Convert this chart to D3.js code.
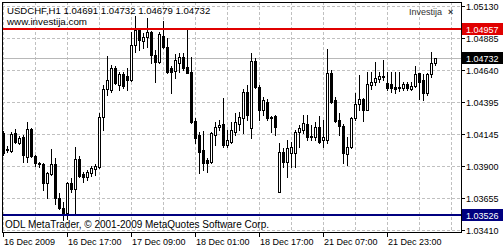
<!DOCTYPE html>
<html>
<head>
<meta charset="utf-8">
<script src="https://cdn.jsdelivr.net/npm/d3@7"></script>
<style>
html, body { margin: 0; padding: 0; background: #fff; }
svg { display: block; font-family: "Liberation Sans", Arial, sans-serif; }
</style>
</head>
<body>
<div id="chart"></div>
<script>
// USDCHF H1 bars, oldest first
var opens = [1.04155,1.04032,1.04016,1.04155,1.04078,1.04124,1.03970,1.04186,1.03978,1.03924,
	1.03916,1.03771,1.03840,1.03916,1.03655,1.03579,1.03540,1.03771,1.03725,1.03955,
	1.03840,1.03817,1.03848,1.03878,1.03893,1.04278,1.04493,1.04485,1.04654,1.04524,
	1.04608,1.04592,1.04562,1.04830,1.04946,1.04861,1.04892,1.04930,1.04754,1.04700,
	1.04900,1.04815,1.04654,1.04631,1.04692,1.04738,1.04662,1.04623,1.04247,1.04140,
	1.04024,1.03947,1.03932,1.04140,1.04201,1.04224,1.04063,1.04086,1.04163,1.04224,
	1.04270,1.04470,1.04194,1.04708,1.04508,1.04331,1.04393,1.04278,1.04285,1.03702,
	1.04009,1.03932,1.04001,1.04001,1.04163,1.04178,1.04224,1.04132,1.04124,1.04201,
	1.04101,1.04101,1.04615,1.04408,1.04255,1.04209,1.03993,1.04047,1.04270,1.04377,
	1.04416,1.04331,1.04524,1.04546,1.04569,1.04585,1.04539,1.04531,1.04508,1.04508,
	1.04500,1.04531,1.04493,1.04516,1.04615,1.04562,1.04462,1.04608,1.04691];
var highs = [1.04170,1.04055,1.04163,1.04186,1.04132,1.04140,1.04240,1.04194,1.03986,1.03932,
	1.03924,1.03856,1.04032,1.03963,1.03694,1.03625,1.03779,1.03810,1.04047,1.03978,
	1.03856,1.03871,1.03901,1.03916,1.04308,1.04524,1.04746,1.04677,1.04669,1.04623,
	1.04623,1.04654,1.04930,1.05053,1.04961,1.04923,1.05038,1.04938,1.04792,1.04930,
	1.05015,1.04884,1.04669,1.04761,1.04769,1.04769,1.04953,1.04738,1.04270,1.04163,
	1.04170,1.03963,1.04163,1.04240,1.04255,1.04423,1.04178,1.04240,1.04308,1.04316,
	1.04493,1.04524,1.04769,1.04731,1.04524,1.04431,1.04416,1.04285,1.04293,1.04078,
	1.04040,1.04101,1.04086,1.04178,1.04217,1.04293,1.04293,1.04217,1.04240,1.04285,
	1.04255,1.04800,1.04639,1.04431,1.04308,1.04224,1.04124,1.04278,1.04462,1.04600,
	1.04423,1.04623,1.04623,1.04700,1.04623,1.04715,1.04623,1.04623,1.04623,1.04623,
	1.04546,1.04546,1.04546,1.04669,1.04615,1.04608,1.04615,1.04777,1.04732];
var lows = [1.03986,1.04009,1.04009,1.04078,1.04070,1.03932,1.03932,1.03970,1.03901,1.03893,
	1.03717,1.03655,1.03833,1.03609,1.03571,1.03487,1.03494,1.03702,1.03532,1.03817,
	1.03779,1.03794,1.03825,1.03833,1.03886,1.04178,1.04447,1.04470,1.04531,1.04485,
	1.04500,1.04485,1.04554,1.04777,1.04792,1.04807,1.04815,1.04692,1.04546,1.04692,
	1.04807,1.04615,1.04462,1.04577,1.04623,1.04639,1.04615,1.04232,1.04078,1.03848,
	1.03871,1.03856,1.03924,1.04063,1.04178,1.04047,1.04047,1.04078,1.04140,1.04178,
	1.04155,1.04255,1.04117,1.04500,1.04255,1.04293,1.04255,1.04163,1.04140,1.03702,
	1.03893,1.03817,1.03893,1.03893,1.04047,1.04155,1.04101,1.04101,1.04101,1.04078,
	1.04047,1.04078,1.04385,1.04240,1.04140,1.03924,1.03909,1.04040,1.04255,1.04331,
	1.04247,1.04331,1.04493,1.04524,1.04546,1.04562,1.04485,1.04470,1.04462,1.04477,
	1.04485,1.04485,1.04485,1.04508,1.04416,1.04408,1.04447,1.04585,1.04679];
var closes = [1.04001,1.04024,1.04147,1.04086,1.04117,1.03986,1.04186,1.03978,1.03924,1.03916,
	1.03771,1.03848,1.03916,1.03655,1.03579,1.03540,1.03771,1.03725,1.03955,1.03825,
	1.03817,1.03856,1.03886,1.03901,1.04278,1.04493,1.04562,1.04654,1.04539,1.04608,
	1.04516,1.04562,1.04830,1.04946,1.04869,1.04892,1.04930,1.04754,1.04700,1.04915,
	1.04815,1.04623,1.04623,1.04715,1.04738,1.04654,1.04615,1.04240,1.04117,1.04009,
	1.03924,1.03924,1.04155,1.04201,1.04217,1.04063,1.04101,1.04178,1.04240,1.04278,
	1.04470,1.04293,1.04708,1.04508,1.04331,1.04408,1.04270,1.04270,1.04201,1.04009,
	1.03932,1.04040,1.04047,1.04163,1.04194,1.04232,1.04124,1.04124,1.04201,1.04086,
	1.04124,1.04615,1.04393,1.04247,1.04209,1.04001,1.04047,1.04270,1.04377,1.04416,
	1.04331,1.04531,1.04546,1.04577,1.04592,1.04592,1.04500,1.04500,1.04493,1.04500,
	1.04531,1.04500,1.04516,1.04608,1.04546,1.04462,1.04608,1.04692,1.04732];

// time axis labels and the bar they sit on
var timeLabels = ["16 Dec 2009","16 Dec 17:00","17 Dec 09:00","18 Dec 01:00","18 Dec 17:00","21 Dec 07:00","21 Dec 23:00"];
var timeTickBars = [0,16,32,48,64,80,96];
var priceTicks = [1.05130,1.04885,1.04640,1.04395,1.04145,1.03900,1.03655,1.03410];
var levelPrices = [1.04957,1.03526];
var bidPrice = 1.04732;

(function() {
	"use strict";
	var W = 503, H = 250;
	var left = 2, right = 461, top = 2, bottom = 232;
	var n = opens.length;

	var svg = d3.select("#chart").append("svg")
		.attr("width", W).attr("height", H);

	var x = d3.scaleLinear().domain([0, n - 1]).range([3, 3 + 4 * (n - 1)]);
	var y = d3.scaleLinear().domain([1.03410, 1.05130]).range([230, 6]);
	var py = function(p) { return Math.round(y(p)) + 0.5; };

	// grid (dashed), every 8 bars / every price tick
	var grid = svg.append("g").attr("stroke", "#c0c0c0").attr("stroke-dasharray", "3,2");
	grid.selectAll("line.v").data(d3.range(0, 113, 8)).enter().append("line")
		.attr("x1", function(d) { return Math.round(x(d)) + 0.5; })
		.attr("x2", function(d) { return Math.round(x(d)) + 0.5; })
		.attr("y1", top).attr("y2", bottom);
	grid.selectAll("line.h").data(priceTicks).enter().append("line")
		.attr("x1", left).attr("x2", right)
		.attr("y1", py).attr("y2", py);

	// bid line
	svg.append("line")
		.attr("x1", left).attr("x2", right)
		.attr("y1", py(bidPrice)).attr("y2", py(bidPrice))
		.attr("stroke", "#b8b8b8");

	// candles
	var bars = svg.append("g").selectAll("g").data(d3.range(n)).enter().append("g");
	bars.append("line")
		.attr("x1", function(i) { return Math.round(x(i)) + 0.5; })
		.attr("x2", function(i) { return Math.round(x(i)) + 0.5; })
		.attr("y1", function(i) { return Math.round(y(highs[i])); })
		.attr("y2", function(i) { return Math.round(y(lows[i])) + 1; })
		.attr("stroke", "#000");
	bars.append("rect")
		.attr("x", function(i) { return Math.round(x(i)) - 0.5; })
		.attr("y", function(i) { return py(Math.max(opens[i], closes[i])); })
		.attr("width", 2)
		.attr("height", function(i) { return Math.round(y(Math.min(opens[i], closes[i]))) - Math.round(y(Math.max(opens[i], closes[i]))); })
		.attr("fill", function(i) { return closes[i] >= opens[i] ? "#fff" : "#000"; })
		.attr("stroke", "#000");

	// horizontal levels
	var levelColors = ["#e00000", "#000080"];
	svg.selectAll("line.lvl").data(levelPrices).enter().append("line")
		.attr("x1", left).attr("x2", right)
		.attr("y1", function(d) { return Math.round(y(d)); })
		.attr("y2", function(d) { return Math.round(y(d)); })
		.attr("stroke", function(d, i) { return levelColors[i]; })
		.attr("stroke-width", 2);

	// frame
	svg.append("rect")
		.attr("x", left + 0.5).attr("y", top + 0.5)
		.attr("width", right - left).attr("height", bottom - top)
		.attr("fill", "none").attr("stroke", "#000");

	// price axis
	var ax = svg.append("g").attr("font-size", "9px").attr("fill", "#000");
	ax.selectAll("line").data(priceTicks).enter().append("line")
		.attr("x1", right).attr("x2", right + 4)
		.attr("y1", py).attr("y2", py).attr("stroke", "#000");
	ax.selectAll("text").data(priceTicks).enter().append("text")
		.attr("x", 466).attr("y", function(d) { return Math.round(y(d)) + 3.5; })
		.text(function(d) { return d.toFixed(5); });

	// price tags
	var tags = levelPrices.concat([bidPrice]);
	var tagColors = levelColors.concat(["#000"]);
	var tg = svg.append("g").selectAll("g").data(tags).enter().append("g");
	tg.append("rect")
		.attr("x", right + 1).attr("width", W - right - 1)
		.attr("y", function(d) { return Math.round(y(d)) - 6; })
		.attr("height", 12)
		.attr("fill", function(d, i) { return tagColors[i]; });
	tg.append("text")
		.attr("x", 466).attr("y", function(d) { return Math.round(y(d)) + 3.5; })
		.attr("font-size", "9px").attr("fill", "#fff")
		.text(function(d) { return d.toFixed(5); });

	// time axis
	var tx = svg.append("g").attr("font-size", "9px");
	tx.selectAll("line").data(timeTickBars).enter().append("line")
		.attr("x1", function(d) { return Math.round(x(d)) + 0.5; })
		.attr("x2", function(d) { return Math.round(x(d)) + 0.5; })
		.attr("y1", bottom).attr("y2", bottom + 5).attr("stroke", "#000");
	tx.selectAll("text").data(timeTickBars).enter().append("text")
		.attr("x", function(d) { return Math.round(x(d)) + 1; })
		.attr("y", 245)
		.text(function(d, i) { return timeLabels[i]; });

	// labels
	var last = n - 1;
	svg.append("text").attr("x", 7).attr("y", 14).attr("font-size", "9.6px")
		.text("USDCHF,H1  " + [opens[last], highs[last], lows[last], closes[last]].map(function(v) { return v.toFixed(5); }).join(" "));
	svg.append("text").attr("x", 7).attr("y", 25).attr("font-size", "9.8px")
		.text("www.investija.com");
	svg.append("text").attr("x", 442).attr("y", 15).attr("font-size", "9px")
		.attr("text-anchor", "end").attr("fill", "#333").text("Investija");
	svg.append("text").attr("x", 448).attr("y", 15).attr("font-size", "9px")
		.attr("font-weight", "bold").attr("fill", "#333").text("×");
	svg.append("text").attr("x", 5).attr("y", 228).attr("font-size", "10px")
		.text("ODL MetaTrader, © 2001-2009 MetaQuotes Software Corp.");
})();
</script>
</body>
</html>
